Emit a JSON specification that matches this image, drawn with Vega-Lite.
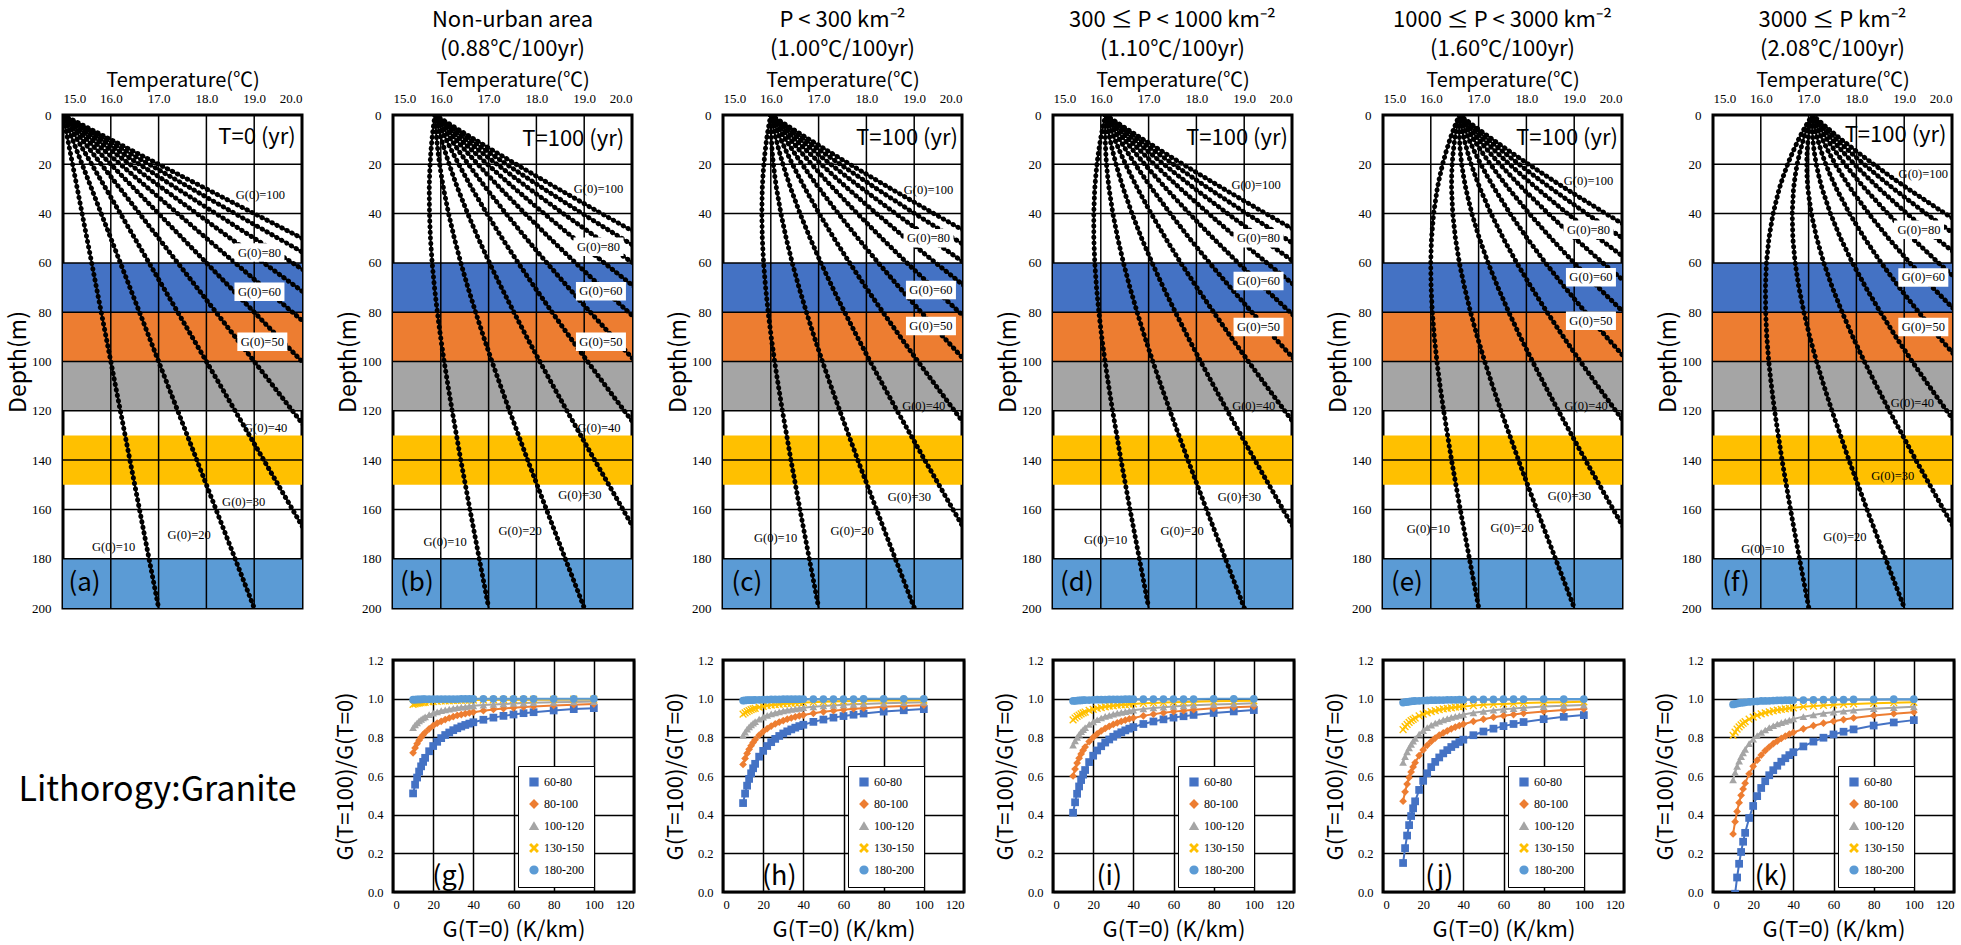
{
"$schema":"https://vega.github.io/schema/vega-lite/v6.json",
"background":"white",
"padding":{"left":6,"top":7,"right":0,"bottom":0},
"datasets":{
"bands":[{"z":60,"z2":80,"T":15,"T2":20,"band":"60-80"},{"z":80,"z2":100,"T":15,"T2":20,"band":"80-100"},{"z":100,"z2":120,"T":15,"T2":20,"band":"100-120"},{"z":130,"z2":150,"T":15,"T2":20,"band":"130-150"},{"z":180,"z2":200,"T":15,"T2":20,"band":"180-200"}],
"gx":[{"T":16,"z":0,"z2":200},{"T":17,"z":0,"z2":200},{"T":18,"z":0,"z2":200},{"T":19,"z":0,"z2":200}],
"gy":[{"z":20,"T":15,"T2":20},{"z":40,"T":15,"T2":20},{"z":60,"T":15,"T2":20},{"z":80,"T":15,"T2":20},{"z":100,"T":15,"T2":20},{"z":120,"T":15,"T2":20},{"z":140,"T":15,"T2":20},{"z":160,"T":15,"T2":20},{"z":180,"T":15,"T2":20}],
"prof":[
{"p":"a","z":0,"g10":15,"g20":15,"g30":15,"g40":15,"g50":15,"g60":15,"g70":15,"g80":15,"g90":15,"g100":15},
{"p":"a","z":200,"g10":17,"g20":19,"g30":21,"g40":23,"g50":25,"g60":27,"g70":29,"g80":31,"g90":33,"g100":35},
{"p":"b","z":0,"g10":15.88,"g20":15.88,"g30":15.88,"g40":15.88,"g50":15.88,"g60":15.88,"g70":15.88,"g80":15.88,"g90":15.88,"g100":15.88},
{"p":"b","z":2.5,"g10":15.861,"g20":15.886,"g30":15.911,"g40":15.936,"g50":15.961,"g60":15.986,"g70":16.011,"g80":16.036,"g90":16.061,"g100":16.086},
{"p":"b","z":5,"g10":15.844,"g20":15.894,"g30":15.944,"g40":15.994,"g50":16.044,"g60":16.094,"g70":16.144,"g80":16.194,"g90":16.244,"g100":16.294},
{"p":"b","z":7.5,"g10":15.828,"g20":15.903,"g30":15.978,"g40":16.053,"g50":16.128,"g60":16.203,"g70":16.278,"g80":16.353,"g90":16.428,"g100":16.503},
{"p":"b","z":10,"g10":15.815,"g20":15.915,"g30":16.015,"g40":16.115,"g50":16.215,"g60":16.315,"g70":16.415,"g80":16.515,"g90":16.615,"g100":16.715},
{"p":"b","z":15,"g10":15.792,"g20":15.942,"g30":16.092,"g40":16.242,"g50":16.392,"g60":16.542,"g70":16.692,"g80":16.842,"g90":16.992,"g100":17.142},
{"p":"b","z":20,"g10":15.776,"g20":15.976,"g30":16.176,"g40":16.376,"g50":16.576,"g60":16.776,"g70":16.976,"g80":17.176,"g90":17.376,"g100":17.576},
{"p":"b","z":25,"g10":15.765,"g20":16.015,"g30":16.265,"g40":16.515,"g50":16.765,"g60":17.015,"g70":17.265,"g80":17.515,"g90":17.765,"g100":18.015},
{"p":"b","z":30,"g10":15.758,"g20":16.058,"g30":16.358,"g40":16.658,"g50":16.958,"g60":17.258,"g70":17.558,"g80":17.858,"g90":18.158,"g100":18.458},
{"p":"b","z":40,"g10":15.763,"g20":16.163,"g30":16.563,"g40":16.963,"g50":17.363,"g60":17.763,"g70":18.163,"g80":18.563,"g90":18.963,"g100":19.363},
{"p":"b","z":50,"g10":15.783,"g20":16.283,"g30":16.783,"g40":17.283,"g50":17.783,"g60":18.283,"g70":18.783,"g80":19.283,"g90":19.783,"g100":20.283},
{"p":"b","z":60,"g10":15.819,"g20":16.419,"g30":17.019,"g40":17.619,"g50":18.219,"g60":18.819,"g70":19.419,"g80":20.019,"g90":20.619},
{"p":"b","z":70,"g10":15.868,"g20":16.568,"g30":17.268,"g40":17.968,"g50":18.668,"g60":19.368,"g70":20.068},
{"p":"b","z":80,"g10":15.928,"g20":16.728,"g30":17.528,"g40":18.328,"g50":19.128,"g60":19.928},
{"p":"b","z":90,"g10":15.995,"g20":16.895,"g30":17.795,"g40":18.695,"g50":19.595,"g60":20.495},
{"p":"b","z":100,"g10":16.07,"g20":17.07,"g30":18.07,"g40":19.07,"g50":20.07},
{"p":"b","z":110,"g10":16.152,"g20":17.252,"g30":18.352,"g40":19.452},
{"p":"b","z":120,"g10":16.238,"g20":17.438,"g30":18.638,"g40":19.838},
{"p":"b","z":140,"g10":16.418,"g20":17.818,"g30":19.218,"g40":20.618},
{"p":"b","z":160,"g10":16.609,"g20":18.209,"g30":19.809},
{"p":"b","z":180,"g10":16.804,"g20":18.604,"g30":20.404},
{"p":"b","z":200,"g10":17.002,"g20":19.002},
{"p":"c","z":0,"g10":16,"g20":16,"g30":16,"g40":16,"g50":16,"g60":16,"g70":16,"g80":16,"g90":16,"g100":16},
{"p":"c","z":2.5,"g10":15.975,"g20":16.0,"g30":16.025,"g40":16.05,"g50":16.075,"g60":16.1,"g70":16.125,"g80":16.15,"g90":16.175,"g100":16.2},
{"p":"c","z":5,"g10":15.952,"g20":16.002,"g30":16.052,"g40":16.102,"g50":16.152,"g60":16.202,"g70":16.252,"g80":16.302,"g90":16.352,"g100":16.402},
{"p":"c","z":7.5,"g10":15.931,"g20":16.006,"g30":16.081,"g40":16.156,"g50":16.231,"g60":16.306,"g70":16.381,"g80":16.456,"g90":16.531,"g100":16.606},
{"p":"c","z":10,"g10":15.912,"g20":16.012,"g30":16.112,"g40":16.212,"g50":16.312,"g60":16.412,"g70":16.512,"g80":16.612,"g90":16.712,"g100":16.812},
{"p":"c","z":15,"g10":15.88,"g20":16.03,"g30":16.18,"g40":16.33,"g50":16.48,"g60":16.63,"g70":16.78,"g80":16.93,"g90":17.08,"g100":17.23},
{"p":"c","z":20,"g10":15.854,"g20":16.054,"g30":16.254,"g40":16.454,"g50":16.654,"g60":16.854,"g70":17.054,"g80":17.254,"g90":17.454,"g100":17.654},
{"p":"c","z":25,"g10":15.835,"g20":16.085,"g30":16.335,"g40":16.585,"g50":16.835,"g60":17.085,"g70":17.335,"g80":17.585,"g90":17.835,"g100":18.085},
{"p":"c","z":30,"g10":15.821,"g20":16.121,"g30":16.421,"g40":16.721,"g50":17.021,"g60":17.321,"g70":17.621,"g80":17.921,"g90":18.221,"g100":18.521},
{"p":"c","z":40,"g10":15.812,"g20":16.212,"g30":16.612,"g40":17.012,"g50":17.412,"g60":17.812,"g70":18.212,"g80":18.612,"g90":19.012,"g100":19.412},
{"p":"c","z":50,"g10":15.822,"g20":16.322,"g30":16.822,"g40":17.322,"g50":17.822,"g60":18.322,"g70":18.822,"g80":19.322,"g90":19.822,"g100":20.322},
{"p":"c","z":60,"g10":15.849,"g20":16.449,"g30":17.049,"g40":17.649,"g50":18.249,"g60":18.849,"g70":19.449,"g80":20.049,"g90":20.649},
{"p":"c","z":70,"g10":15.891,"g20":16.591,"g30":17.291,"g40":17.991,"g50":18.691,"g60":19.391,"g70":20.091},
{"p":"c","z":80,"g10":15.945,"g20":16.745,"g30":17.545,"g40":18.345,"g50":19.145,"g60":19.945},
{"p":"c","z":90,"g10":16.008,"g20":16.908,"g30":17.808,"g40":18.708,"g50":19.608,"g60":20.508},
{"p":"c","z":100,"g10":16.08,"g20":17.08,"g30":18.08,"g40":19.08,"g50":20.08},
{"p":"c","z":110,"g10":16.159,"g20":17.259,"g30":18.359,"g40":19.459},
{"p":"c","z":120,"g10":16.243,"g20":17.443,"g30":18.643,"g40":19.843},
{"p":"c","z":140,"g10":16.421,"g20":17.821,"g30":19.221,"g40":20.621},
{"p":"c","z":160,"g10":16.61,"g20":18.21,"g30":19.81},
{"p":"c","z":180,"g10":16.805,"g20":18.605,"g30":20.405},
{"p":"c","z":200,"g10":17.002,"g20":19.002},
{"p":"d","z":0,"g10":16.1,"g20":16.1,"g30":16.1,"g40":16.1,"g50":16.1,"g60":16.1,"g70":16.1,"g80":16.1,"g90":16.1,"g100":16.1},
{"p":"d","z":2.5,"g10":16.07,"g20":16.095,"g30":16.12,"g40":16.145,"g50":16.17,"g60":16.195,"g70":16.22,"g80":16.245,"g90":16.27,"g100":16.295},
{"p":"d","z":5,"g10":16.042,"g20":16.092,"g30":16.142,"g40":16.192,"g50":16.242,"g60":16.292,"g70":16.342,"g80":16.392,"g90":16.442,"g100":16.492},
{"p":"d","z":7.5,"g10":16.017,"g20":16.092,"g30":16.167,"g40":16.242,"g50":16.317,"g60":16.392,"g70":16.467,"g80":16.542,"g90":16.617,"g100":16.692},
{"p":"d","z":10,"g10":15.993,"g20":16.093,"g30":16.193,"g40":16.293,"g50":16.393,"g60":16.493,"g70":16.593,"g80":16.693,"g90":16.793,"g100":16.893},
{"p":"d","z":15,"g10":15.953,"g20":16.103,"g30":16.253,"g40":16.403,"g50":16.553,"g60":16.703,"g70":16.853,"g80":17.003,"g90":17.153,"g100":17.303},
{"p":"d","z":20,"g10":15.919,"g20":16.119,"g30":16.319,"g40":16.519,"g50":16.719,"g60":16.919,"g70":17.119,"g80":17.319,"g90":17.519,"g100":17.719},
{"p":"d","z":25,"g10":15.894,"g20":16.144,"g30":16.394,"g40":16.644,"g50":16.894,"g60":17.144,"g70":17.394,"g80":17.644,"g90":17.894,"g100":18.144},
{"p":"d","z":30,"g10":15.873,"g20":16.173,"g30":16.473,"g40":16.773,"g50":17.073,"g60":17.373,"g70":17.673,"g80":17.973,"g90":18.273,"g100":18.573},
{"p":"d","z":40,"g10":15.853,"g20":16.253,"g30":16.653,"g40":17.053,"g50":17.453,"g60":17.853,"g70":18.253,"g80":18.653,"g90":19.053,"g100":19.453},
{"p":"d","z":50,"g10":15.854,"g20":16.354,"g30":16.854,"g40":17.354,"g50":17.854,"g60":18.354,"g70":18.854,"g80":19.354,"g90":19.854,"g100":20.354},
{"p":"d","z":60,"g10":15.874,"g20":16.474,"g30":17.074,"g40":17.674,"g50":18.274,"g60":18.874,"g70":19.474,"g80":20.074,"g90":20.674},
{"p":"d","z":70,"g10":15.91,"g20":16.61,"g30":17.31,"g40":18.01,"g50":18.71,"g60":19.41,"g70":20.11},
{"p":"d","z":80,"g10":15.96,"g20":16.76,"g30":17.56,"g40":18.36,"g50":19.16,"g60":19.96},
{"p":"d","z":90,"g10":16.019,"g20":16.919,"g30":17.819,"g40":18.719,"g50":19.619,"g60":20.519},
{"p":"d","z":100,"g10":16.088,"g20":17.088,"g30":18.088,"g40":19.088,"g50":20.088},
{"p":"d","z":110,"g10":16.165,"g20":17.265,"g30":18.365,"g40":19.465},
{"p":"d","z":120,"g10":16.247,"g20":17.447,"g30":18.647,"g40":19.847},
{"p":"d","z":140,"g10":16.423,"g20":17.823,"g30":19.223,"g40":20.623},
{"p":"d","z":160,"g10":16.611,"g20":18.211,"g30":19.811},
{"p":"d","z":180,"g10":16.806,"g20":18.606,"g30":20.406},
{"p":"d","z":200,"g10":17.002,"g20":19.002},
{"p":"e","z":0,"g10":16.6,"g20":16.6,"g30":16.6,"g40":16.6,"g50":16.6,"g60":16.6,"g70":16.6,"g80":16.6,"g90":16.6,"g100":16.6},
{"p":"e","z":2.5,"g10":16.545,"g20":16.57,"g30":16.595,"g40":16.62,"g50":16.645,"g60":16.67,"g70":16.695,"g80":16.72,"g90":16.745,"g100":16.77},
{"p":"e","z":5,"g10":16.493,"g20":16.543,"g30":16.593,"g40":16.643,"g50":16.693,"g60":16.743,"g70":16.793,"g80":16.843,"g90":16.893,"g100":16.943},
{"p":"e","z":7.5,"g10":16.445,"g20":16.52,"g30":16.595,"g40":16.67,"g50":16.745,"g60":16.82,"g70":16.895,"g80":16.97,"g90":17.045,"g100":17.12},
{"p":"e","z":10,"g10":16.399,"g20":16.499,"g30":16.599,"g40":16.699,"g50":16.799,"g60":16.899,"g70":16.999,"g80":17.099,"g90":17.199,"g100":17.299},
{"p":"e","z":15,"g10":16.318,"g20":16.468,"g30":16.618,"g40":16.768,"g50":16.918,"g60":17.068,"g70":17.218,"g80":17.368,"g90":17.518,"g100":17.668},
{"p":"e","z":20,"g10":16.246,"g20":16.446,"g30":16.646,"g40":16.846,"g50":17.046,"g60":17.246,"g70":17.446,"g80":17.646,"g90":17.846,"g100":18.046},
{"p":"e","z":25,"g10":16.186,"g20":16.436,"g30":16.686,"g40":16.936,"g50":17.186,"g60":17.436,"g70":17.686,"g80":17.936,"g90":18.186,"g100":18.436},
{"p":"e","z":30,"g10":16.134,"g20":16.434,"g30":16.734,"g40":17.034,"g50":17.334,"g60":17.634,"g70":17.934,"g80":18.234,"g90":18.534,"g100":18.834},
{"p":"e","z":40,"g10":16.059,"g20":16.459,"g30":16.859,"g40":17.259,"g50":17.659,"g60":18.059,"g70":18.459,"g80":18.859,"g90":19.259,"g100":19.659},
{"p":"e","z":50,"g10":16.015,"g20":16.515,"g30":17.015,"g40":17.515,"g50":18.015,"g60":18.515,"g70":19.015,"g80":19.515,"g90":20.015,"g100":20.515},
{"p":"e","z":60,"g10":15.998,"g20":16.598,"g30":17.198,"g40":17.798,"g50":18.398,"g60":18.998,"g70":19.598,"g80":20.198},
{"p":"e","z":70,"g10":16.006,"g20":16.706,"g30":17.406,"g40":18.106,"g50":18.806,"g60":19.506,"g70":20.206},
{"p":"e","z":80,"g10":16.032,"g20":16.832,"g30":17.632,"g40":18.432,"g50":19.232,"g60":20.032},
{"p":"e","z":90,"g10":16.073,"g20":16.973,"g30":17.873,"g40":18.773,"g50":19.673},
{"p":"e","z":100,"g10":16.128,"g20":17.128,"g30":18.128,"g40":19.128,"g50":20.128},
{"p":"e","z":110,"g10":16.194,"g20":17.294,"g30":18.394,"g40":19.494},
{"p":"e","z":120,"g10":16.269,"g20":17.469,"g30":18.669,"g40":19.869},
{"p":"e","z":140,"g10":16.434,"g20":17.834,"g30":19.234,"g40":20.634},
{"p":"e","z":160,"g10":16.616,"g20":18.216,"g30":19.816},
{"p":"e","z":180,"g10":16.808,"g20":18.608,"g30":20.408},
{"p":"e","z":200,"g10":17.003,"g20":19.003},
{"p":"f","z":0,"g10":17.08,"g20":17.08,"g30":17.08,"g40":17.08,"g50":17.08,"g60":17.08,"g70":17.08,"g80":17.08,"g90":17.08,"g100":17.08},
{"p":"f","z":2.5,"g10":17.001,"g20":17.026,"g30":17.051,"g40":17.076,"g50":17.101,"g60":17.126,"g70":17.151,"g80":17.176,"g90":17.201,"g100":17.226},
{"p":"f","z":5,"g10":16.926,"g20":16.976,"g30":17.026,"g40":17.076,"g50":17.126,"g60":17.176,"g70":17.226,"g80":17.276,"g90":17.326,"g100":17.376},
{"p":"f","z":7.5,"g10":16.855,"g20":16.93,"g30":17.005,"g40":17.08,"g50":17.155,"g60":17.23,"g70":17.305,"g80":17.38,"g90":17.455,"g100":17.53},
{"p":"f","z":10,"g10":16.789,"g20":16.889,"g30":16.989,"g40":17.089,"g50":17.189,"g60":17.289,"g70":17.389,"g80":17.489,"g90":17.589,"g100":17.689},
{"p":"f","z":15,"g10":16.668,"g20":16.818,"g30":16.968,"g40":17.118,"g50":17.268,"g60":17.418,"g70":17.568,"g80":17.718,"g90":17.868,"g100":18.018},
{"p":"f","z":20,"g10":16.56,"g20":16.76,"g30":16.96,"g40":17.16,"g50":17.36,"g60":17.56,"g70":17.76,"g80":17.96,"g90":18.16,"g100":18.36},
{"p":"f","z":25,"g10":16.467,"g20":16.717,"g30":16.967,"g40":17.217,"g50":17.467,"g60":17.717,"g70":17.967,"g80":18.217,"g90":18.467,"g100":18.717},
{"p":"f","z":30,"g10":16.384,"g20":16.684,"g30":16.984,"g40":17.284,"g50":17.584,"g60":17.884,"g70":18.184,"g80":18.484,"g90":18.784,"g100":19.084},
{"p":"f","z":40,"g10":16.257,"g20":16.657,"g30":17.057,"g40":17.457,"g50":17.857,"g60":18.257,"g70":18.657,"g80":19.057,"g90":19.457,"g100":19.857},
{"p":"f","z":50,"g10":16.17,"g20":16.67,"g30":17.17,"g40":17.67,"g50":18.17,"g60":18.67,"g70":19.17,"g80":19.67,"g90":20.17,"g100":20.67},
{"p":"f","z":60,"g10":16.118,"g20":16.718,"g30":17.318,"g40":17.918,"g50":18.518,"g60":19.118,"g70":19.718,"g80":20.318},
{"p":"f","z":70,"g10":16.097,"g20":16.797,"g30":17.497,"g40":18.197,"g50":18.897,"g60":19.597,"g70":20.297},
{"p":"f","z":80,"g10":16.102,"g20":16.902,"g30":17.702,"g40":18.502,"g50":19.302,"g60":20.102},
{"p":"f","z":90,"g10":16.125,"g20":17.025,"g30":17.925,"g40":18.825,"g50":19.725},
{"p":"f","z":100,"g10":16.166,"g20":17.166,"g30":18.166,"g40":19.166,"g50":20.166},
{"p":"f","z":110,"g10":16.223,"g20":17.323,"g30":18.423,"g40":19.523},
{"p":"f","z":120,"g10":16.289,"g20":17.489,"g30":18.689,"g40":19.889},
{"p":"f","z":140,"g10":16.444,"g20":17.844,"g30":19.244,"g40":20.644},
{"p":"f","z":160,"g10":16.621,"g20":18.221,"g30":19.821},
{"p":"f","z":180,"g10":16.81,"g20":18.61,"g30":20.41},
{"p":"f","z":200,"g10":17.004,"g20":19.004}
],
"glab":[
{"p":"a","T":19.13,"z":32.3,"t":"G(0)=100","box":false},{"p":"a","T":19.11,"z":55.8,"t":"G(0)=80","box":true},{"p":"a","T":19.11,"z":71.7,"t":"G(0)=60","box":true},{"p":"a","T":19.17,"z":92,"t":"G(0)=50","box":true},{"p":"a","T":19.24,"z":126.8,"t":"G(0)=40","box":false},{"p":"a","T":18.78,"z":156.8,"t":"G(0)=30","box":false},{"p":"a","T":17.64,"z":170.3,"t":"G(0)=20","box":false},{"p":"a","T":16.06,"z":175.4,"t":"G(0)=10","box":false},
{"p":"b","T":19.3,"z":30.1,"t":"G(0)=100","box":false},{"p":"b","T":19.3,"z":53.4,"t":"G(0)=80","box":true},{"p":"b","T":19.35,"z":71.5,"t":"G(0)=60","box":true},{"p":"b","T":19.35,"z":92,"t":"G(0)=50","box":true},{"p":"b","T":19.31,"z":126.8,"t":"G(0)=40","box":false},{"p":"b","T":18.91,"z":154.3,"t":"G(0)=30","box":false},{"p":"b","T":17.66,"z":168.8,"t":"G(0)=20","box":false},{"p":"b","T":16.09,"z":173.2,"t":"G(0)=10","box":false},
{"p":"c","T":19.3,"z":30.4,"t":"G(0)=100","box":false},{"p":"c","T":19.3,"z":50,"t":"G(0)=80","box":true},{"p":"c","T":19.35,"z":71,"t":"G(0)=60","box":true},{"p":"c","T":19.35,"z":85.6,"t":"G(0)=50","box":true},{"p":"c","T":19.2,"z":118,"t":"G(0)=40","box":false},{"p":"c","T":18.9,"z":155,"t":"G(0)=30","box":false},{"p":"c","T":17.7,"z":168.6,"t":"G(0)=20","box":false},{"p":"c","T":16.1,"z":171.6,"t":"G(0)=10","box":false},
{"p":"d","T":19.25,"z":28.4,"t":"G(0)=100","box":false},{"p":"d","T":19.3,"z":50,"t":"G(0)=80","box":true},{"p":"d","T":19.3,"z":67.3,"t":"G(0)=60","box":true},{"p":"d","T":19.3,"z":86,"t":"G(0)=50","box":true},{"p":"d","T":19.2,"z":118,"t":"G(0)=40","box":false},{"p":"d","T":18.9,"z":155,"t":"G(0)=30","box":false},{"p":"d","T":17.7,"z":168.6,"t":"G(0)=20","box":false},{"p":"d","T":16.1,"z":172.6,"t":"G(0)=10","box":false},
{"p":"e","T":19.3,"z":26.8,"t":"G(0)=100","box":false},{"p":"e","T":19.3,"z":46.6,"t":"G(0)=80","box":true},{"p":"e","T":19.35,"z":65.8,"t":"G(0)=60","box":true},{"p":"e","T":19.35,"z":83.5,"t":"G(0)=50","box":true},{"p":"e","T":19.25,"z":118,"t":"G(0)=40","box":false},{"p":"e","T":18.9,"z":154.4,"t":"G(0)=30","box":false},{"p":"e","T":17.7,"z":167.6,"t":"G(0)=20","box":false},{"p":"e","T":15.95,"z":168,"t":"G(0)=10","box":false},
{"p":"f","T":19.4,"z":23.8,"t":"G(0)=100","box":false},{"p":"f","T":19.31,"z":46.6,"t":"G(0)=80","box":true},{"p":"f","T":19.4,"z":65.9,"t":"G(0)=60","box":true},{"p":"f","T":19.4,"z":86,"t":"G(0)=50","box":true},{"p":"f","T":19.17,"z":116.8,"t":"G(0)=40","box":false},{"p":"f","T":18.76,"z":146.5,"t":"G(0)=30","box":false},{"p":"f","T":17.76,"z":171,"t":"G(0)=20","box":false},{"p":"f","T":16.04,"z":176,"t":"G(0)=10","box":false}
],
"tlab":[
{"p":"a","T":19.06,"z":9.1,"t":"T=0 (yr)"},{"p":"b","T":18.77,"z":9.6,"t":"T=100 (yr)"},{"p":"c","T":18.85,"z":9.2,"t":"T=100 (yr)"},{"p":"d","T":18.85,"z":9.2,"t":"T=100 (yr)"},{"p":"e","T":18.85,"z":9.2,"t":"T=100 (yr)"},{"p":"f","T":18.82,"z":8,"t":"T=100 (yr)"}
],
"plab":[
{"p":"a","T":15.45,"z":190,"t":"(a)"},{"p":"b","T":15.5,"z":190,"t":"(b)"},{"p":"c","T":15.5,"z":190,"t":"(c)"},{"p":"d","T":15.5,"z":190,"t":"(d)"},{"p":"e","T":15.5,"z":190,"t":"(e)"},{"p":"f","T":15.48,"z":190,"t":"(f)"}
],
"ratio":[
{"p":"g","s":"60-80","G":[10,11,12,13,14,15,16,18,20,22,24,26,28,30,32,34,36,38,40,45,50,55,60,65,70,80,90,100],"r":[0.51,0.555,0.592,0.623,0.65,0.673,0.694,0.728,0.755,0.777,0.796,0.812,0.825,0.837,0.847,0.856,0.864,0.871,0.878,0.891,0.902,0.911,0.918,0.925,0.93,0.939,0.946,0.951]},
{"p":"g","s":"80-100","G":[10,11,12,13,14,15,16,18,20,22,24,26,28,30,32,34,36,38,40,45,50,55,60,65,70,80,90,100],"r":[0.72,0.745,0.767,0.785,0.8,0.813,0.825,0.844,0.86,0.873,0.883,0.892,0.9,0.907,0.913,0.918,0.922,0.926,0.93,0.938,0.944,0.949,0.953,0.957,0.96,0.965,0.969,0.972]},
{"p":"g","s":"100-120","G":[10,11,12,13,14,15,16,18,20,22,24,26,28,30,32,34,36,38,40,45,50,55,60,65,70,80,90,100],"r":[0.85,0.864,0.875,0.885,0.893,0.9,0.906,0.917,0.925,0.932,0.938,0.942,0.946,0.95,0.953,0.956,0.958,0.961,0.963,0.967,0.97,0.973,0.975,0.977,0.979,0.981,0.983,0.985]},
{"p":"g","s":"130-150","G":[10,11,12,13,14,15,16,18,20,22,24,26,28,30,32,34,36,38,40,45,50,55,60,65,70,80,90,100],"r":[0.97,0.973,0.975,0.977,0.979,0.98,0.981,0.983,0.985,0.986,0.988,0.988,0.989,0.99,0.991,0.991,0.992,0.992,0.993,0.993,0.994,0.995,0.995,0.995,0.996,0.996,0.997,0.997]},
{"p":"g","s":"180-200","G":[10,11,12,13,14,15,16,18,20,22,24,26,28,30,32,34,36,38,40,45,50,55,60,65,70,80,90,100],"r":[0.995,0.995,0.996,0.996,0.996,0.997,0.997,0.997,0.998,0.998,0.998,0.998,0.998,0.998,0.998,0.999,0.999,0.999,0.999,0.999,0.999,0.999,0.999,0.999,0.999,0.999,0.999,1]},
{"p":"h","s":"60-80","G":[10,11,12,13,14,15,16,18,20,22,24,26,28,30,32,34,36,38,40,45,50,55,60,65,70,80,90,100],"r":[0.46,0.509,0.55,0.585,0.614,0.64,0.663,0.7,0.73,0.755,0.775,0.792,0.807,0.82,0.831,0.841,0.85,0.858,0.865,0.88,0.892,0.902,0.91,0.917,0.923,0.933,0.94,0.946]},
{"p":"h","s":"80-100","G":[10,11,12,13,14,15,16,18,20,22,24,26,28,30,32,34,36,38,40,45,50,55,60,65,70,80,90,100],"r":[0.66,0.691,0.717,0.738,0.757,0.773,0.788,0.811,0.83,0.845,0.858,0.869,0.879,0.887,0.894,0.9,0.906,0.911,0.915,0.924,0.932,0.938,0.943,0.948,0.951,0.958,0.962,0.966]},
{"p":"h","s":"100-120","G":[10,11,12,13,14,15,16,18,20,22,24,26,28,30,32,34,36,38,40,45,50,55,60,65,70,80,90,100],"r":[0.81,0.827,0.842,0.854,0.864,0.873,0.881,0.894,0.905,0.914,0.921,0.927,0.932,0.937,0.941,0.944,0.947,0.95,0.953,0.958,0.962,0.965,0.968,0.971,0.973,0.976,0.979,0.981]},
{"p":"h","s":"130-150","G":[10,11,12,13,14,15,16,18,20,22,24,26,28,30,32,34,36,38,40,45,50,55,60,65,70,80,90,100],"r":[0.92,0.927,0.933,0.938,0.943,0.947,0.95,0.956,0.96,0.964,0.967,0.969,0.971,0.973,0.975,0.976,0.978,0.979,0.98,0.982,0.984,0.985,0.987,0.988,0.989,0.99,0.991,0.992]},
{"p":"h","s":"180-200","G":[10,11,12,13,14,15,16,18,20,22,24,26,28,30,32,34,36,38,40,45,50,55,60,65,70,80,90,100],"r":[0.99,0.991,0.992,0.992,0.993,0.993,0.994,0.994,0.995,0.995,0.996,0.996,0.996,0.997,0.997,0.997,0.997,0.997,0.998,0.998,0.998,0.998,0.998,0.998,0.999,0.999,0.999,0.999]},
{"p":"i","s":"60-80","G":[10,11,12,13,14,15,16,18,20,22,24,26,28,30,32,34,36,38,40,45,50,55,60,65,70,80,90,100],"r":[0.41,0.464,0.508,0.546,0.579,0.607,0.631,0.672,0.705,0.732,0.754,0.773,0.789,0.803,0.816,0.826,0.836,0.845,0.853,0.869,0.882,0.893,0.902,0.909,0.916,0.926,0.934,0.941]},
{"p":"i","s":"80-100","G":[10,11,12,13,14,15,16,18,20,22,24,26,28,30,32,34,36,38,40,45,50,55,60,65,70,80,90,100],"r":[0.6,0.636,0.667,0.692,0.714,0.733,0.75,0.778,0.8,0.818,0.833,0.846,0.857,0.867,0.875,0.882,0.889,0.895,0.9,0.911,0.92,0.927,0.933,0.938,0.943,0.95,0.956,0.96]},
{"p":"i","s":"100-120","G":[10,11,12,13,14,15,16,18,20,22,24,26,28,30,32,34,36,38,40,45,50,55,60,65,70,80,90,100],"r":[0.76,0.782,0.8,0.815,0.829,0.84,0.85,0.867,0.88,0.891,0.9,0.908,0.914,0.92,0.925,0.929,0.933,0.937,0.94,0.947,0.952,0.956,0.96,0.963,0.966,0.97,0.973,0.976]},
{"p":"i","s":"130-150","G":[10,11,12,13,14,15,16,18,20,22,24,26,28,30,32,34,36,38,40,45,50,55,60,65,70,80,90,100],"r":[0.89,0.9,0.908,0.915,0.921,0.927,0.931,0.939,0.945,0.95,0.954,0.958,0.961,0.963,0.966,0.968,0.969,0.971,0.973,0.976,0.978,0.98,0.982,0.983,0.984,0.986,0.988,0.989]},
{"p":"i","s":"180-200","G":[10,11,12,13,14,15,16,18,20,22,24,26,28,30,32,34,36,38,40,45,50,55,60,65,70,80,90,100],"r":[0.988,0.989,0.99,0.991,0.991,0.992,0.993,0.993,0.994,0.995,0.995,0.995,0.996,0.996,0.996,0.996,0.997,0.997,0.997,0.997,0.998,0.998,0.998,0.998,0.998,0.999,0.999,0.999]},
{"p":"j","s":"60-80","G":[10,11,12,13,14,15,16,18,20,22,24,26,28,30,32,34,36,38,40,45,50,55,60,65,70,80,90,100],"r":[0.15,0.227,0.292,0.346,0.393,0.433,0.469,0.528,0.575,0.614,0.646,0.673,0.696,0.717,0.734,0.75,0.764,0.776,0.788,0.811,0.83,0.845,0.858,0.869,0.879,0.894,0.906,0.915]},
{"p":"j","s":"80-100","G":[10,11,12,13,14,15,16,18,20,22,24,26,28,30,32,34,36,38,40,45,50,55,60,65,70,80,90,100],"r":[0.47,0.518,0.558,0.592,0.621,0.647,0.669,0.706,0.735,0.759,0.779,0.796,0.811,0.823,0.834,0.844,0.853,0.861,0.868,0.882,0.894,0.904,0.912,0.918,0.924,0.934,0.941,0.947]},
{"p":"j","s":"100-120","G":[10,11,12,13,14,15,16,18,20,22,24,26,28,30,32,34,36,38,40,45,50,55,60,65,70,80,90,100],"r":[0.67,0.7,0.725,0.746,0.764,0.78,0.794,0.817,0.835,0.85,0.863,0.873,0.882,0.89,0.897,0.903,0.908,0.913,0.918,0.927,0.934,0.94,0.945,0.949,0.953,0.959,0.963,0.967]},
{"p":"j","s":"130-150","G":[10,11,12,13,14,15,16,18,20,22,24,26,28,30,32,34,36,38,40,45,50,55,60,65,70,80,90,100],"r":[0.84,0.855,0.867,0.877,0.886,0.893,0.9,0.911,0.92,0.927,0.933,0.938,0.943,0.947,0.95,0.953,0.956,0.958,0.96,0.964,0.968,0.971,0.973,0.975,0.977,0.98,0.982,0.984]},
{"p":"j","s":"180-200","G":[10,11,12,13,14,15,16,18,20,22,24,26,28,30,32,34,36,38,40,45,50,55,60,65,70,80,90,100],"r":[0.98,0.982,0.983,0.985,0.986,0.987,0.988,0.989,0.99,0.991,0.992,0.992,0.993,0.993,0.994,0.994,0.994,0.995,0.995,0.996,0.996,0.996,0.997,0.997,0.997,0.998,0.998,0.998]},
{"p":"k","s":"60-80","G":[10,11,12,13,14,15,16,18,20,22,24,26,28,30,32,34,36,38,40,45,50,55,60,65,70,80,90,100],"r":[-0.11,-0.009,0.075,0.146,0.207,0.26,0.306,0.383,0.445,0.496,0.538,0.573,0.604,0.63,0.653,0.674,0.692,0.708,0.723,0.753,0.778,0.798,0.815,0.829,0.841,0.861,0.877,0.889]},
{"p":"k","s":"80-100","G":[10,11,12,13,14,15,16,18,20,22,24,26,28,30,32,34,36,38,40,45,50,55,60,65,70,80,90,100],"r":[0.3,0.364,0.417,0.462,0.5,0.533,0.563,0.611,0.65,0.682,0.708,0.731,0.75,0.767,0.781,0.794,0.806,0.816,0.825,0.844,0.86,0.873,0.883,0.892,0.9,0.913,0.922,0.93]},
{"p":"k","s":"100-120","G":[10,11,12,13,14,15,16,18,20,22,24,26,28,30,32,34,36,38,40,45,50,55,60,65,70,80,90,100],"r":[0.58,0.618,0.65,0.677,0.7,0.72,0.738,0.767,0.79,0.809,0.825,0.838,0.85,0.86,0.869,0.876,0.883,0.889,0.895,0.907,0.916,0.924,0.93,0.935,0.94,0.948,0.953,0.958]},
{"p":"k","s":"130-150","G":[10,11,12,13,14,15,16,18,20,22,24,26,28,30,32,34,36,38,40,45,50,55,60,65,70,80,90,100],"r":[0.81,0.827,0.842,0.854,0.864,0.873,0.881,0.894,0.905,0.914,0.921,0.927,0.932,0.937,0.941,0.944,0.947,0.95,0.953,0.958,0.962,0.965,0.968,0.971,0.973,0.976,0.979,0.981]},
{"p":"k","s":"180-200","G":[10,11,12,13,14,15,16,18,20,22,24,26,28,30,32,34,36,38,40,45,50,55,60,65,70,80,90,100],"r":[0.97,0.973,0.975,0.977,0.979,0.98,0.981,0.983,0.985,0.986,0.988,0.988,0.989,0.99,0.991,0.991,0.992,0.992,0.993,0.993,0.994,0.995,0.995,0.995,0.996,0.996,0.997,0.997]}
],
"blab":[{"p":"g","G":28,"r":0.08,"t":"(g)"},{"p":"h","G":28,"r":0.08,"t":"(h)"},{"p":"i","G":28,"r":0.08,"t":"(i)"},{"p":"j","G":28,"r":0.08,"t":"(j)"},{"p":"k","G":29,"r":0.08,"t":"(k)"}],
"lith":[{"t":"Lithorogy:Granite","x":-0.185,"y":0.435}]
},
"config":{
"view":{"stroke":"black","strokeWidth":3},
"axis":{"labelFont":"Liberation Serif","labelFontSize":13,"labelColor":"black","titleFont":"Noto Sans CJK JP","titleFontWeight":"normal","titleColor":"black","grid":false,"ticks":false,"domain":false},
"title":{"font":"Noto Sans CJK JP","fontWeight":"normal","fontSize":22,"color":"black","lineHeight":29,"frame":"group","offset":9},
"text":{"color":"black"}
},
"columns":6,
"bounds":"flush",
"spacing":{"row":52,"column":89},
"resolve":{"scale":{"color":"independent","shape":"independent"},"legend":{"color":"independent","shape":"independent"}},
"concat":[
{"width":239,"height":493,
"encoding":{"x":{"field":"T","type":"quantitative","scale":{"domain":[15,20],"nice":false,"zero":false},"axis":{"orient":"top","values":[15,16,17,18,19,20],"format":".1f","title":"Temperature(℃)","titleFontSize":20,"labelPadding":10,"titlePadding":2}},
"y":{"field":"z","type":"quantitative","scale":{"domain":[0,200],"nice":false,"zero":false,"reverse":true},"axis":{"values":[0,20,40,60,80,100,120,140,160,180,200],"title":"Depth(m)","titleFontSize":23,"labelPadding":12,"titlePadding":1}}},
"layer":[
{"data":{"name":"bands"},"mark":{"type":"rect"},"encoding":{"x2":{"field":"T2"},"y2":{"field":"z2"},"color":{"field":"band","type":"nominal","scale":{"domain":["60-80","80-100","100-120","130-150","180-200"],"range":["#4472C4","#ED7D31","#A5A5A5","#FFC000","#5B9BD5"]},"legend":null}}},
{"data":{"name":"gx"},"mark":{"type":"rule","color":"black","strokeWidth":1.5},"encoding":{"y2":{"field":"z2"}}},
{"data":{"name":"gy"},"mark":{"type":"rule","color":"black","strokeWidth":1.5},"encoding":{"x2":{"field":"T2"}}},
{"data":{"name":"prof"},"transform":[{"filter":{"field":"p","equal":"a"}},{"fold":["g10","g20","g30","g40","g50","g60","g70","g80","g90","g100"],"as":["G","T"]},{"filter":{"field":"T","valid":true}}],"mark":{"type":"line","color":"black","strokeWidth":2,"clip":true},"encoding":{"detail":{"field":"G","type":"nominal"},"order":{"field":"z","type":"quantitative"}}},
{"data":{"name":"prof"},"transform":[{"filter":{"field":"p","equal":"a"}},{"fold":["g10","g20","g30","g40","g50","g60","g70","g80","g90","g100"],"as":["G","T"]},{"filter":{"field":"T","valid":true}}],"mark":{"type":"line","color":"black","strokeWidth":5,"strokeDash":[0.1,5.5],"strokeCap":"round","clip":true},"encoding":{"detail":{"field":"G","type":"nominal"},"order":{"field":"z","type":"quantitative"}}},
{"data":{"name":"glab"},"transform":[{"filter":{"field":"p","equal":"a"}},{"filter":{"field":"box","equal":true}}],"mark":{"type":"point","shape":"M-1,-0.37H1V0.37H-1Z","size":2500,"filled":true,"color":"white","opacity":1,"strokeWidth":0}},
{"data":{"name":"glab"},"transform":[{"filter":{"field":"p","equal":"a"}}],"mark":{"type":"text","font":"Liberation Serif","fontSize":12.5},"encoding":{"text":{"field":"t"}}},
{"data":{"name":"tlab"},"transform":[{"filter":{"field":"p","equal":"a"}}],"mark":{"type":"text","font":"Noto Sans CJK JP","fontSize":22},"encoding":{"text":{"field":"t"}}},
{"data":{"name":"plab"},"transform":[{"filter":{"field":"p","equal":"a"}}],"mark":{"type":"text","font":"Noto Sans CJK JP","fontSize":26},"encoding":{"text":{"field":"t"}}}
]},
{"width":239,"height":493,"title":{"text":["Non-urban area","(0.88℃/100yr)"]},
"encoding":{"x":{"field":"T","type":"quantitative","scale":{"domain":[15,20],"nice":false,"zero":false},"axis":{"orient":"top","values":[15,16,17,18,19,20],"format":".1f","title":"Temperature(℃)","titleFontSize":20,"labelPadding":10,"titlePadding":2}},
"y":{"field":"z","type":"quantitative","scale":{"domain":[0,200],"nice":false,"zero":false,"reverse":true},"axis":{"values":[0,20,40,60,80,100,120,140,160,180,200],"title":"Depth(m)","titleFontSize":23,"labelPadding":12,"titlePadding":1}}},
"layer":[
{"data":{"name":"bands"},"mark":{"type":"rect"},"encoding":{"x2":{"field":"T2"},"y2":{"field":"z2"},"color":{"field":"band","type":"nominal","scale":{"domain":["60-80","80-100","100-120","130-150","180-200"],"range":["#4472C4","#ED7D31","#A5A5A5","#FFC000","#5B9BD5"]},"legend":null}}},
{"data":{"name":"gx"},"mark":{"type":"rule","color":"black","strokeWidth":1.5},"encoding":{"y2":{"field":"z2"}}},
{"data":{"name":"gy"},"mark":{"type":"rule","color":"black","strokeWidth":1.5},"encoding":{"x2":{"field":"T2"}}},
{"data":{"name":"prof"},"transform":[{"filter":{"field":"p","equal":"b"}},{"fold":["g10","g20","g30","g40","g50","g60","g70","g80","g90","g100"],"as":["G","T"]},{"filter":{"field":"T","valid":true}}],"mark":{"type":"line","color":"black","strokeWidth":2,"clip":true},"encoding":{"detail":{"field":"G","type":"nominal"},"order":{"field":"z","type":"quantitative"}}},
{"data":{"name":"prof"},"transform":[{"filter":{"field":"p","equal":"b"}},{"fold":["g10","g20","g30","g40","g50","g60","g70","g80","g90","g100"],"as":["G","T"]},{"filter":{"field":"T","valid":true}}],"mark":{"type":"line","color":"black","strokeWidth":5,"strokeDash":[0.1,5.5],"strokeCap":"round","clip":true},"encoding":{"detail":{"field":"G","type":"nominal"},"order":{"field":"z","type":"quantitative"}}},
{"data":{"name":"glab"},"transform":[{"filter":{"field":"p","equal":"b"}},{"filter":{"field":"box","equal":true}}],"mark":{"type":"point","shape":"M-1,-0.37H1V0.37H-1Z","size":2500,"filled":true,"color":"white","opacity":1,"strokeWidth":0}},
{"data":{"name":"glab"},"transform":[{"filter":{"field":"p","equal":"b"}}],"mark":{"type":"text","font":"Liberation Serif","fontSize":12.5},"encoding":{"text":{"field":"t"}}},
{"data":{"name":"tlab"},"transform":[{"filter":{"field":"p","equal":"b"}}],"mark":{"type":"text","font":"Noto Sans CJK JP","fontSize":22},"encoding":{"text":{"field":"t"}}},
{"data":{"name":"plab"},"transform":[{"filter":{"field":"p","equal":"b"}}],"mark":{"type":"text","font":"Noto Sans CJK JP","fontSize":26},"encoding":{"text":{"field":"t"}}}
]},
{"width":239,"height":493,"title":{"text":["P < 300 km⁻²","(1.00℃/100yr)"]},
"encoding":{"x":{"field":"T","type":"quantitative","scale":{"domain":[15,20],"nice":false,"zero":false},"axis":{"orient":"top","values":[15,16,17,18,19,20],"format":".1f","title":"Temperature(℃)","titleFontSize":20,"labelPadding":10,"titlePadding":2}},
"y":{"field":"z","type":"quantitative","scale":{"domain":[0,200],"nice":false,"zero":false,"reverse":true},"axis":{"values":[0,20,40,60,80,100,120,140,160,180,200],"title":"Depth(m)","titleFontSize":23,"labelPadding":12,"titlePadding":1}}},
"layer":[
{"data":{"name":"bands"},"mark":{"type":"rect"},"encoding":{"x2":{"field":"T2"},"y2":{"field":"z2"},"color":{"field":"band","type":"nominal","scale":{"domain":["60-80","80-100","100-120","130-150","180-200"],"range":["#4472C4","#ED7D31","#A5A5A5","#FFC000","#5B9BD5"]},"legend":null}}},
{"data":{"name":"gx"},"mark":{"type":"rule","color":"black","strokeWidth":1.5},"encoding":{"y2":{"field":"z2"}}},
{"data":{"name":"gy"},"mark":{"type":"rule","color":"black","strokeWidth":1.5},"encoding":{"x2":{"field":"T2"}}},
{"data":{"name":"prof"},"transform":[{"filter":{"field":"p","equal":"c"}},{"fold":["g10","g20","g30","g40","g50","g60","g70","g80","g90","g100"],"as":["G","T"]},{"filter":{"field":"T","valid":true}}],"mark":{"type":"line","color":"black","strokeWidth":2,"clip":true},"encoding":{"detail":{"field":"G","type":"nominal"},"order":{"field":"z","type":"quantitative"}}},
{"data":{"name":"prof"},"transform":[{"filter":{"field":"p","equal":"c"}},{"fold":["g10","g20","g30","g40","g50","g60","g70","g80","g90","g100"],"as":["G","T"]},{"filter":{"field":"T","valid":true}}],"mark":{"type":"line","color":"black","strokeWidth":5,"strokeDash":[0.1,5.5],"strokeCap":"round","clip":true},"encoding":{"detail":{"field":"G","type":"nominal"},"order":{"field":"z","type":"quantitative"}}},
{"data":{"name":"glab"},"transform":[{"filter":{"field":"p","equal":"c"}},{"filter":{"field":"box","equal":true}}],"mark":{"type":"point","shape":"M-1,-0.37H1V0.37H-1Z","size":2500,"filled":true,"color":"white","opacity":1,"strokeWidth":0}},
{"data":{"name":"glab"},"transform":[{"filter":{"field":"p","equal":"c"}}],"mark":{"type":"text","font":"Liberation Serif","fontSize":12.5},"encoding":{"text":{"field":"t"}}},
{"data":{"name":"tlab"},"transform":[{"filter":{"field":"p","equal":"c"}}],"mark":{"type":"text","font":"Noto Sans CJK JP","fontSize":22},"encoding":{"text":{"field":"t"}}},
{"data":{"name":"plab"},"transform":[{"filter":{"field":"p","equal":"c"}}],"mark":{"type":"text","font":"Noto Sans CJK JP","fontSize":26},"encoding":{"text":{"field":"t"}}}
]},
{"width":239,"height":493,"title":{"text":["300 ≤ P < 1000 km⁻²","(1.10℃/100yr)"]},
"encoding":{"x":{"field":"T","type":"quantitative","scale":{"domain":[15,20],"nice":false,"zero":false},"axis":{"orient":"top","values":[15,16,17,18,19,20],"format":".1f","title":"Temperature(℃)","titleFontSize":20,"labelPadding":10,"titlePadding":2}},
"y":{"field":"z","type":"quantitative","scale":{"domain":[0,200],"nice":false,"zero":false,"reverse":true},"axis":{"values":[0,20,40,60,80,100,120,140,160,180,200],"title":"Depth(m)","titleFontSize":23,"labelPadding":12,"titlePadding":1}}},
"layer":[
{"data":{"name":"bands"},"mark":{"type":"rect"},"encoding":{"x2":{"field":"T2"},"y2":{"field":"z2"},"color":{"field":"band","type":"nominal","scale":{"domain":["60-80","80-100","100-120","130-150","180-200"],"range":["#4472C4","#ED7D31","#A5A5A5","#FFC000","#5B9BD5"]},"legend":null}}},
{"data":{"name":"gx"},"mark":{"type":"rule","color":"black","strokeWidth":1.5},"encoding":{"y2":{"field":"z2"}}},
{"data":{"name":"gy"},"mark":{"type":"rule","color":"black","strokeWidth":1.5},"encoding":{"x2":{"field":"T2"}}},
{"data":{"name":"prof"},"transform":[{"filter":{"field":"p","equal":"d"}},{"fold":["g10","g20","g30","g40","g50","g60","g70","g80","g90","g100"],"as":["G","T"]},{"filter":{"field":"T","valid":true}}],"mark":{"type":"line","color":"black","strokeWidth":2,"clip":true},"encoding":{"detail":{"field":"G","type":"nominal"},"order":{"field":"z","type":"quantitative"}}},
{"data":{"name":"prof"},"transform":[{"filter":{"field":"p","equal":"d"}},{"fold":["g10","g20","g30","g40","g50","g60","g70","g80","g90","g100"],"as":["G","T"]},{"filter":{"field":"T","valid":true}}],"mark":{"type":"line","color":"black","strokeWidth":5,"strokeDash":[0.1,5.5],"strokeCap":"round","clip":true},"encoding":{"detail":{"field":"G","type":"nominal"},"order":{"field":"z","type":"quantitative"}}},
{"data":{"name":"glab"},"transform":[{"filter":{"field":"p","equal":"d"}},{"filter":{"field":"box","equal":true}}],"mark":{"type":"point","shape":"M-1,-0.37H1V0.37H-1Z","size":2500,"filled":true,"color":"white","opacity":1,"strokeWidth":0}},
{"data":{"name":"glab"},"transform":[{"filter":{"field":"p","equal":"d"}}],"mark":{"type":"text","font":"Liberation Serif","fontSize":12.5},"encoding":{"text":{"field":"t"}}},
{"data":{"name":"tlab"},"transform":[{"filter":{"field":"p","equal":"d"}}],"mark":{"type":"text","font":"Noto Sans CJK JP","fontSize":22},"encoding":{"text":{"field":"t"}}},
{"data":{"name":"plab"},"transform":[{"filter":{"field":"p","equal":"d"}}],"mark":{"type":"text","font":"Noto Sans CJK JP","fontSize":26},"encoding":{"text":{"field":"t"}}}
]},
{"width":239,"height":493,"title":{"text":["1000 ≤ P < 3000 km⁻²","(1.60℃/100yr)"]},
"encoding":{"x":{"field":"T","type":"quantitative","scale":{"domain":[15,20],"nice":false,"zero":false},"axis":{"orient":"top","values":[15,16,17,18,19,20],"format":".1f","title":"Temperature(℃)","titleFontSize":20,"labelPadding":10,"titlePadding":2}},
"y":{"field":"z","type":"quantitative","scale":{"domain":[0,200],"nice":false,"zero":false,"reverse":true},"axis":{"values":[0,20,40,60,80,100,120,140,160,180,200],"title":"Depth(m)","titleFontSize":23,"labelPadding":12,"titlePadding":1}}},
"layer":[
{"data":{"name":"bands"},"mark":{"type":"rect"},"encoding":{"x2":{"field":"T2"},"y2":{"field":"z2"},"color":{"field":"band","type":"nominal","scale":{"domain":["60-80","80-100","100-120","130-150","180-200"],"range":["#4472C4","#ED7D31","#A5A5A5","#FFC000","#5B9BD5"]},"legend":null}}},
{"data":{"name":"gx"},"mark":{"type":"rule","color":"black","strokeWidth":1.5},"encoding":{"y2":{"field":"z2"}}},
{"data":{"name":"gy"},"mark":{"type":"rule","color":"black","strokeWidth":1.5},"encoding":{"x2":{"field":"T2"}}},
{"data":{"name":"prof"},"transform":[{"filter":{"field":"p","equal":"e"}},{"fold":["g10","g20","g30","g40","g50","g60","g70","g80","g90","g100"],"as":["G","T"]},{"filter":{"field":"T","valid":true}}],"mark":{"type":"line","color":"black","strokeWidth":2,"clip":true},"encoding":{"detail":{"field":"G","type":"nominal"},"order":{"field":"z","type":"quantitative"}}},
{"data":{"name":"prof"},"transform":[{"filter":{"field":"p","equal":"e"}},{"fold":["g10","g20","g30","g40","g50","g60","g70","g80","g90","g100"],"as":["G","T"]},{"filter":{"field":"T","valid":true}}],"mark":{"type":"line","color":"black","strokeWidth":5,"strokeDash":[0.1,5.5],"strokeCap":"round","clip":true},"encoding":{"detail":{"field":"G","type":"nominal"},"order":{"field":"z","type":"quantitative"}}},
{"data":{"name":"glab"},"transform":[{"filter":{"field":"p","equal":"e"}},{"filter":{"field":"box","equal":true}}],"mark":{"type":"point","shape":"M-1,-0.37H1V0.37H-1Z","size":2500,"filled":true,"color":"white","opacity":1,"strokeWidth":0}},
{"data":{"name":"glab"},"transform":[{"filter":{"field":"p","equal":"e"}}],"mark":{"type":"text","font":"Liberation Serif","fontSize":12.5},"encoding":{"text":{"field":"t"}}},
{"data":{"name":"tlab"},"transform":[{"filter":{"field":"p","equal":"e"}}],"mark":{"type":"text","font":"Noto Sans CJK JP","fontSize":22},"encoding":{"text":{"field":"t"}}},
{"data":{"name":"plab"},"transform":[{"filter":{"field":"p","equal":"e"}}],"mark":{"type":"text","font":"Noto Sans CJK JP","fontSize":26},"encoding":{"text":{"field":"t"}}}
]},
{"width":239,"height":493,"title":{"text":["3000 ≤ P  km⁻²","(2.08℃/100yr)"]},
"encoding":{"x":{"field":"T","type":"quantitative","scale":{"domain":[15,20],"nice":false,"zero":false},"axis":{"orient":"top","values":[15,16,17,18,19,20],"format":".1f","title":"Temperature(℃)","titleFontSize":20,"labelPadding":10,"titlePadding":2}},
"y":{"field":"z","type":"quantitative","scale":{"domain":[0,200],"nice":false,"zero":false,"reverse":true},"axis":{"values":[0,20,40,60,80,100,120,140,160,180,200],"title":"Depth(m)","titleFontSize":23,"labelPadding":12,"titlePadding":1}}},
"layer":[
{"data":{"name":"bands"},"mark":{"type":"rect"},"encoding":{"x2":{"field":"T2"},"y2":{"field":"z2"},"color":{"field":"band","type":"nominal","scale":{"domain":["60-80","80-100","100-120","130-150","180-200"],"range":["#4472C4","#ED7D31","#A5A5A5","#FFC000","#5B9BD5"]},"legend":null}}},
{"data":{"name":"gx"},"mark":{"type":"rule","color":"black","strokeWidth":1.5},"encoding":{"y2":{"field":"z2"}}},
{"data":{"name":"gy"},"mark":{"type":"rule","color":"black","strokeWidth":1.5},"encoding":{"x2":{"field":"T2"}}},
{"data":{"name":"prof"},"transform":[{"filter":{"field":"p","equal":"f"}},{"fold":["g10","g20","g30","g40","g50","g60","g70","g80","g90","g100"],"as":["G","T"]},{"filter":{"field":"T","valid":true}}],"mark":{"type":"line","color":"black","strokeWidth":2,"clip":true},"encoding":{"detail":{"field":"G","type":"nominal"},"order":{"field":"z","type":"quantitative"}}},
{"data":{"name":"prof"},"transform":[{"filter":{"field":"p","equal":"f"}},{"fold":["g10","g20","g30","g40","g50","g60","g70","g80","g90","g100"],"as":["G","T"]},{"filter":{"field":"T","valid":true}}],"mark":{"type":"line","color":"black","strokeWidth":5,"strokeDash":[0.1,5.5],"strokeCap":"round","clip":true},"encoding":{"detail":{"field":"G","type":"nominal"},"order":{"field":"z","type":"quantitative"}}},
{"data":{"name":"glab"},"transform":[{"filter":{"field":"p","equal":"f"}},{"filter":{"field":"box","equal":true}}],"mark":{"type":"point","shape":"M-1,-0.37H1V0.37H-1Z","size":2500,"filled":true,"color":"white","opacity":1,"strokeWidth":0}},
{"data":{"name":"glab"},"transform":[{"filter":{"field":"p","equal":"f"}}],"mark":{"type":"text","font":"Liberation Serif","fontSize":12.5},"encoding":{"text":{"field":"t"}}},
{"data":{"name":"tlab"},"transform":[{"filter":{"field":"p","equal":"f"}}],"mark":{"type":"text","font":"Noto Sans CJK JP","fontSize":22},"encoding":{"text":{"field":"t"}}},
{"data":{"name":"plab"},"transform":[{"filter":{"field":"p","equal":"f"}}],"mark":{"type":"text","font":"Noto Sans CJK JP","fontSize":26},"encoding":{"text":{"field":"t"}}}
]},
{"width":241,"height":232,"view":{"stroke":null},"data":{"name":"lith"},"mark":{"type":"text","align":"left","baseline":"middle","fontSize":34,"font":"Noto Sans CJK JP"},"encoding":{"x":{"field":"x","type":"quantitative","scale":{"domain":[0,1],"nice":false,"zero":false},"axis":null},"y":{"field":"y","type":"quantitative","scale":{"domain":[0,1],"nice":false,"zero":false},"axis":null},"text":{"field":"t"}}},
{"width":241,"height":232,
"encoding":{"x":{"field":"G","type":"quantitative","scale":{"domain":[0,120],"nice":false,"zero":false},"axis":{"values":[0,20,40,60,80,100,120],"title":"G(T=0) (K/km)","titleFontSize":22,"labelFontSize":12.5,"labelPadding":6,"titlePadding":9,"grid":true,"gridColor":"black","gridWidth":1.5}},
"y":{"field":"r","type":"quantitative","scale":{"domain":[0,1.2],"nice":false,"zero":false},"axis":{"values":[0,0.2,0.4,0.6,0.8,1,1.2],"format":".1f","title":"G(T=100)/G(T=0)","titleFontSize":22,"labelFontSize":12.5,"labelPadding":10,"titlePadding":10,"grid":true,"gridColor":"black","gridWidth":1.5}}},
"layer":[
{"data":{"name":"ratio"},"transform":[{"filter":{"field":"p","equal":"g"}},{"flatten":["G","r"]}],"mark":{"type":"line","strokeWidth":2,"clip":true},"encoding":{"color":{"field":"s","type":"nominal","scale":{"domain":["60-80","80-100","100-120","130-150","180-200"],"range":["#4472C4","#ED7D31","#A5A5A5","#FFC000","#5B9BD5"]},"legend":{"orient":"none","legendX":125,"legendY":106,"title":null,"strokeColor":"black","fillColor":"white","padding":10,"rowPadding":8,"labelFont":"Liberation Serif","labelFontSize":12,"labelColor":"black","symbolSize":60}}}},
{"data":{"name":"ratio"},"transform":[{"filter":{"field":"p","equal":"g"}},{"flatten":["G","r"]}],"mark":{"type":"point","filled":true,"opacity":1,"size":60,"clip":true},"encoding":{"color":{"field":"s","type":"nominal","scale":{"domain":["60-80","80-100","100-120","130-150","180-200"],"range":["#4472C4","#ED7D31","#A5A5A5","#FFC000","#5B9BD5"]},"legend":{"orient":"none","legendX":125,"legendY":106,"title":null,"strokeColor":"black","fillColor":"white","padding":10,"rowPadding":8,"labelFont":"Liberation Serif","labelFontSize":12,"labelColor":"black","symbolSize":60}},"shape":{"field":"s","type":"nominal","scale":{"domain":["60-80","80-100","100-120","130-150","180-200"],"range":["square","diamond","triangle-up","M-1,-0.75L-0.75,-1L0,-0.25L0.75,-1L1,-0.75L0.25,0L1,0.75L0.75,1L0,0.25L-0.75,1L-1,0.75L-0.25,0Z","circle"]},"legend":{"orient":"none","legendX":125,"legendY":106,"title":null,"strokeColor":"black","fillColor":"white","padding":10,"rowPadding":8,"labelFont":"Liberation Serif","labelFontSize":12,"labelColor":"black","symbolSize":60}}}},
{"data":{"name":"blab"},"transform":[{"filter":{"field":"p","equal":"g"}}],"mark":{"type":"text","font":"Noto Sans CJK JP","fontSize":27},"encoding":{"text":{"field":"t"}}}
]},
{"width":241,"height":232,
"encoding":{"x":{"field":"G","type":"quantitative","scale":{"domain":[0,120],"nice":false,"zero":false},"axis":{"values":[0,20,40,60,80,100,120],"title":"G(T=0) (K/km)","titleFontSize":22,"labelFontSize":12.5,"labelPadding":6,"titlePadding":9,"grid":true,"gridColor":"black","gridWidth":1.5}},
"y":{"field":"r","type":"quantitative","scale":{"domain":[0,1.2],"nice":false,"zero":false},"axis":{"values":[0,0.2,0.4,0.6,0.8,1,1.2],"format":".1f","title":"G(T=100)/G(T=0)","titleFontSize":22,"labelFontSize":12.5,"labelPadding":10,"titlePadding":10,"grid":true,"gridColor":"black","gridWidth":1.5}}},
"layer":[
{"data":{"name":"ratio"},"transform":[{"filter":{"field":"p","equal":"h"}},{"flatten":["G","r"]}],"mark":{"type":"line","strokeWidth":2,"clip":true},"encoding":{"color":{"field":"s","type":"nominal","scale":{"domain":["60-80","80-100","100-120","130-150","180-200"],"range":["#4472C4","#ED7D31","#A5A5A5","#FFC000","#5B9BD5"]},"legend":{"orient":"none","legendX":125,"legendY":106,"title":null,"strokeColor":"black","fillColor":"white","padding":10,"rowPadding":8,"labelFont":"Liberation Serif","labelFontSize":12,"labelColor":"black","symbolSize":60}}}},
{"data":{"name":"ratio"},"transform":[{"filter":{"field":"p","equal":"h"}},{"flatten":["G","r"]}],"mark":{"type":"point","filled":true,"opacity":1,"size":60,"clip":true},"encoding":{"color":{"field":"s","type":"nominal","scale":{"domain":["60-80","80-100","100-120","130-150","180-200"],"range":["#4472C4","#ED7D31","#A5A5A5","#FFC000","#5B9BD5"]},"legend":{"orient":"none","legendX":125,"legendY":106,"title":null,"strokeColor":"black","fillColor":"white","padding":10,"rowPadding":8,"labelFont":"Liberation Serif","labelFontSize":12,"labelColor":"black","symbolSize":60}},"shape":{"field":"s","type":"nominal","scale":{"domain":["60-80","80-100","100-120","130-150","180-200"],"range":["square","diamond","triangle-up","M-1,-0.75L-0.75,-1L0,-0.25L0.75,-1L1,-0.75L0.25,0L1,0.75L0.75,1L0,0.25L-0.75,1L-1,0.75L-0.25,0Z","circle"]},"legend":{"orient":"none","legendX":125,"legendY":106,"title":null,"strokeColor":"black","fillColor":"white","padding":10,"rowPadding":8,"labelFont":"Liberation Serif","labelFontSize":12,"labelColor":"black","symbolSize":60}}}},
{"data":{"name":"blab"},"transform":[{"filter":{"field":"p","equal":"h"}}],"mark":{"type":"text","font":"Noto Sans CJK JP","fontSize":27},"encoding":{"text":{"field":"t"}}}
]},
{"width":241,"height":232,
"encoding":{"x":{"field":"G","type":"quantitative","scale":{"domain":[0,120],"nice":false,"zero":false},"axis":{"values":[0,20,40,60,80,100,120],"title":"G(T=0) (K/km)","titleFontSize":22,"labelFontSize":12.5,"labelPadding":6,"titlePadding":9,"grid":true,"gridColor":"black","gridWidth":1.5}},
"y":{"field":"r","type":"quantitative","scale":{"domain":[0,1.2],"nice":false,"zero":false},"axis":{"values":[0,0.2,0.4,0.6,0.8,1,1.2],"format":".1f","title":"G(T=100)/G(T=0)","titleFontSize":22,"labelFontSize":12.5,"labelPadding":10,"titlePadding":10,"grid":true,"gridColor":"black","gridWidth":1.5}}},
"layer":[
{"data":{"name":"ratio"},"transform":[{"filter":{"field":"p","equal":"i"}},{"flatten":["G","r"]}],"mark":{"type":"line","strokeWidth":2,"clip":true},"encoding":{"color":{"field":"s","type":"nominal","scale":{"domain":["60-80","80-100","100-120","130-150","180-200"],"range":["#4472C4","#ED7D31","#A5A5A5","#FFC000","#5B9BD5"]},"legend":{"orient":"none","legendX":125,"legendY":106,"title":null,"strokeColor":"black","fillColor":"white","padding":10,"rowPadding":8,"labelFont":"Liberation Serif","labelFontSize":12,"labelColor":"black","symbolSize":60}}}},
{"data":{"name":"ratio"},"transform":[{"filter":{"field":"p","equal":"i"}},{"flatten":["G","r"]}],"mark":{"type":"point","filled":true,"opacity":1,"size":60,"clip":true},"encoding":{"color":{"field":"s","type":"nominal","scale":{"domain":["60-80","80-100","100-120","130-150","180-200"],"range":["#4472C4","#ED7D31","#A5A5A5","#FFC000","#5B9BD5"]},"legend":{"orient":"none","legendX":125,"legendY":106,"title":null,"strokeColor":"black","fillColor":"white","padding":10,"rowPadding":8,"labelFont":"Liberation Serif","labelFontSize":12,"labelColor":"black","symbolSize":60}},"shape":{"field":"s","type":"nominal","scale":{"domain":["60-80","80-100","100-120","130-150","180-200"],"range":["square","diamond","triangle-up","M-1,-0.75L-0.75,-1L0,-0.25L0.75,-1L1,-0.75L0.25,0L1,0.75L0.75,1L0,0.25L-0.75,1L-1,0.75L-0.25,0Z","circle"]},"legend":{"orient":"none","legendX":125,"legendY":106,"title":null,"strokeColor":"black","fillColor":"white","padding":10,"rowPadding":8,"labelFont":"Liberation Serif","labelFontSize":12,"labelColor":"black","symbolSize":60}}}},
{"data":{"name":"blab"},"transform":[{"filter":{"field":"p","equal":"i"}}],"mark":{"type":"text","font":"Noto Sans CJK JP","fontSize":27},"encoding":{"text":{"field":"t"}}}
]},
{"width":241,"height":232,
"encoding":{"x":{"field":"G","type":"quantitative","scale":{"domain":[0,120],"nice":false,"zero":false},"axis":{"values":[0,20,40,60,80,100,120],"title":"G(T=0) (K/km)","titleFontSize":22,"labelFontSize":12.5,"labelPadding":6,"titlePadding":9,"grid":true,"gridColor":"black","gridWidth":1.5}},
"y":{"field":"r","type":"quantitative","scale":{"domain":[0,1.2],"nice":false,"zero":false},"axis":{"values":[0,0.2,0.4,0.6,0.8,1,1.2],"format":".1f","title":"G(T=100)/G(T=0)","titleFontSize":22,"labelFontSize":12.5,"labelPadding":10,"titlePadding":10,"grid":true,"gridColor":"black","gridWidth":1.5}}},
"layer":[
{"data":{"name":"ratio"},"transform":[{"filter":{"field":"p","equal":"j"}},{"flatten":["G","r"]}],"mark":{"type":"line","strokeWidth":2,"clip":true},"encoding":{"color":{"field":"s","type":"nominal","scale":{"domain":["60-80","80-100","100-120","130-150","180-200"],"range":["#4472C4","#ED7D31","#A5A5A5","#FFC000","#5B9BD5"]},"legend":{"orient":"none","legendX":125,"legendY":106,"title":null,"strokeColor":"black","fillColor":"white","padding":10,"rowPadding":8,"labelFont":"Liberation Serif","labelFontSize":12,"labelColor":"black","symbolSize":60}}}},
{"data":{"name":"ratio"},"transform":[{"filter":{"field":"p","equal":"j"}},{"flatten":["G","r"]}],"mark":{"type":"point","filled":true,"opacity":1,"size":60,"clip":true},"encoding":{"color":{"field":"s","type":"nominal","scale":{"domain":["60-80","80-100","100-120","130-150","180-200"],"range":["#4472C4","#ED7D31","#A5A5A5","#FFC000","#5B9BD5"]},"legend":{"orient":"none","legendX":125,"legendY":106,"title":null,"strokeColor":"black","fillColor":"white","padding":10,"rowPadding":8,"labelFont":"Liberation Serif","labelFontSize":12,"labelColor":"black","symbolSize":60}},"shape":{"field":"s","type":"nominal","scale":{"domain":["60-80","80-100","100-120","130-150","180-200"],"range":["square","diamond","triangle-up","M-1,-0.75L-0.75,-1L0,-0.25L0.75,-1L1,-0.75L0.25,0L1,0.75L0.75,1L0,0.25L-0.75,1L-1,0.75L-0.25,0Z","circle"]},"legend":{"orient":"none","legendX":125,"legendY":106,"title":null,"strokeColor":"black","fillColor":"white","padding":10,"rowPadding":8,"labelFont":"Liberation Serif","labelFontSize":12,"labelColor":"black","symbolSize":60}}}},
{"data":{"name":"blab"},"transform":[{"filter":{"field":"p","equal":"j"}}],"mark":{"type":"text","font":"Noto Sans CJK JP","fontSize":27},"encoding":{"text":{"field":"t"}}}
]},
{"width":241,"height":232,
"encoding":{"x":{"field":"G","type":"quantitative","scale":{"domain":[0,120],"nice":false,"zero":false},"axis":{"values":[0,20,40,60,80,100,120],"title":"G(T=0) (K/km)","titleFontSize":22,"labelFontSize":12.5,"labelPadding":6,"titlePadding":9,"grid":true,"gridColor":"black","gridWidth":1.5}},
"y":{"field":"r","type":"quantitative","scale":{"domain":[0,1.2],"nice":false,"zero":false},"axis":{"values":[0,0.2,0.4,0.6,0.8,1,1.2],"format":".1f","title":"G(T=100)/G(T=0)","titleFontSize":22,"labelFontSize":12.5,"labelPadding":10,"titlePadding":10,"grid":true,"gridColor":"black","gridWidth":1.5}}},
"layer":[
{"data":{"name":"ratio"},"transform":[{"filter":{"field":"p","equal":"k"}},{"flatten":["G","r"]}],"mark":{"type":"line","strokeWidth":2,"clip":true},"encoding":{"color":{"field":"s","type":"nominal","scale":{"domain":["60-80","80-100","100-120","130-150","180-200"],"range":["#4472C4","#ED7D31","#A5A5A5","#FFC000","#5B9BD5"]},"legend":{"orient":"none","legendX":125,"legendY":106,"title":null,"strokeColor":"black","fillColor":"white","padding":10,"rowPadding":8,"labelFont":"Liberation Serif","labelFontSize":12,"labelColor":"black","symbolSize":60}}}},
{"data":{"name":"ratio"},"transform":[{"filter":{"field":"p","equal":"k"}},{"flatten":["G","r"]}],"mark":{"type":"point","filled":true,"opacity":1,"size":60,"clip":true},"encoding":{"color":{"field":"s","type":"nominal","scale":{"domain":["60-80","80-100","100-120","130-150","180-200"],"range":["#4472C4","#ED7D31","#A5A5A5","#FFC000","#5B9BD5"]},"legend":{"orient":"none","legendX":125,"legendY":106,"title":null,"strokeColor":"black","fillColor":"white","padding":10,"rowPadding":8,"labelFont":"Liberation Serif","labelFontSize":12,"labelColor":"black","symbolSize":60}},"shape":{"field":"s","type":"nominal","scale":{"domain":["60-80","80-100","100-120","130-150","180-200"],"range":["square","diamond","triangle-up","M-1,-0.75L-0.75,-1L0,-0.25L0.75,-1L1,-0.75L0.25,0L1,0.75L0.75,1L0,0.25L-0.75,1L-1,0.75L-0.25,0Z","circle"]},"legend":{"orient":"none","legendX":125,"legendY":106,"title":null,"strokeColor":"black","fillColor":"white","padding":10,"rowPadding":8,"labelFont":"Liberation Serif","labelFontSize":12,"labelColor":"black","symbolSize":60}}}},
{"data":{"name":"blab"},"transform":[{"filter":{"field":"p","equal":"k"}}],"mark":{"type":"text","font":"Noto Sans CJK JP","fontSize":27},"encoding":{"text":{"field":"t"}}}
]}
]
}
